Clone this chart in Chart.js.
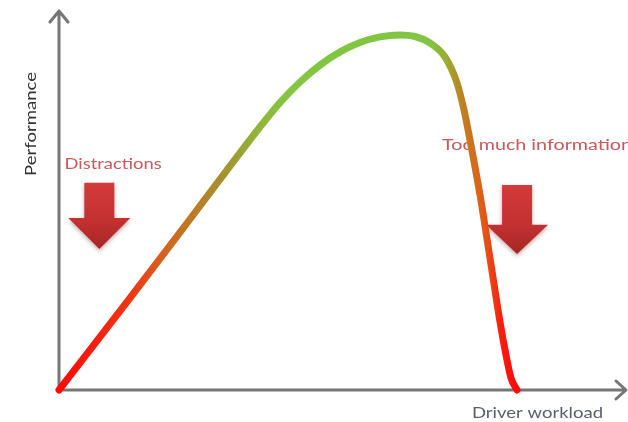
<!DOCTYPE html>
<html>
<head>
<meta charset="utf-8">
<script src="https://cdn.jsdelivr.net/npm/chart.js@4"></script>
<style>
  html, body { margin: 0; padding: 0; background: #ffffff; }
  #wrap { width: 628px; height: 422px; }
</style>
</head>
<body>
<div id="wrap"><canvas id="chart" width="628" height="422"></canvas></div>
<script>
// Inverted-U: performance as a function of driver workload (0–100 on both axes)
const workload    = [0, 12.68, 24.29, 35.89, 39.46, 43.04, 46.61, 50.18, 53.75, 57.32, 60.89, 63.57, 66.25, 68.93, 71.07, 72.32, 73.39, 75.18, 76.96, 78.75, 79.82, 80.71, 81.79];
const performance = [0, 24.34, 46.96, 69.58, 76.03, 81.48, 85.95, 89.44, 91.93, 93.41, 93.92, 93.52, 91.80, 88.10, 81.22, 74.07, 66.14, 51.59, 34.92, 17.99, 9.26, 3.17, 0];

// Axis titles and the two callouts
const xTitle = 'Driver workload';
const yTitle = 'Performance';
const calloutLabels = ['Distractions', 'Too much information'];

// Callout placement in data units: label anchor, arrow centre, arrow top, arrow tip
const calloutSpots = [
  { labelX: 1.0,  labelY: 59.8, arrowX: 7.2,  arrowTop: 54.8, headTop: 45.5, tip: 37.3 },
  { labelX: 68.4, labelY: 64.8, arrowX: 81.8, arrowTop: 54.2, headTop: 43.7, tip: 36.0 }
];
const calloutWidths = [97, 190];

// Colour ramp along the workload axis: red at the ends, green over the crest
const rampAt     = [0, 12.5, 18.4, 29.8, 35.7, 41.6, 66.0, 69.1, 70.9, 72.3, 75.0, 76.8, 79.1, 81.8];
const rampColors = ['#ff0a0a', '#f03414', '#d4621e', '#a4942e', '#90b63a', '#82c642', '#80c644', '#9aae30', '#b09028', '#c07e20', '#dc6418', '#ea4816', '#fa1c0e', '#ff0808'];

function curveGradient(chart) {
  const area = chart.chartArea;
  if (!area) return '#ff0000';
  const xs = chart.scales.x;
  const x0 = xs.getPixelForValue(0), x1 = xs.getPixelForValue(100);
  const g = chart.ctx.createLinearGradient(x0, 0, x1, 0);
  rampAt.forEach((v, i) => g.addColorStop(v / 100, rampColors[i]));
  return g;
}

function fitText(ctx, text, x, y, width, size, color, weight) {
  ctx.save();
  ctx.font = (weight || '400') + ' ' + size + 'px Lato, "Open Sans", sans-serif';
  const w = ctx.measureText(text).width;
  ctx.translate(x, y);
  ctx.scale(width / w, 1);
  ctx.fillStyle = color;
  ctx.textBaseline = 'middle';
  ctx.textAlign = 'left';
  ctx.fillText(text, 0, 0);
  ctx.restore();
}

function downArrow(ctx, cx, top, headTop, tip) {
  const shaft = 15, head = 31;
  ctx.save();
  ctx.shadowColor = 'rgba(80,0,0,0.35)';
  ctx.shadowBlur = 4;
  ctx.shadowOffsetY = 2;
  const g = ctx.createLinearGradient(0, top, 0, tip);
  g.addColorStop(0, '#d43a3a');
  g.addColorStop(0.6, '#c23030');
  g.addColorStop(1, '#a52626');
  ctx.fillStyle = g;
  ctx.beginPath();
  ctx.moveTo(cx - shaft, top);
  ctx.lineTo(cx + shaft, top);
  ctx.lineTo(cx + shaft, headTop);
  ctx.lineTo(cx + head, headTop);
  ctx.lineTo(cx, tip);
  ctx.lineTo(cx - head, headTop);
  ctx.lineTo(cx - shaft, headTop);
  ctx.closePath();
  ctx.fill();
  ctx.restore();
}

const decorations = {
  id: 'decorations',
  beforeDatasetsDraw(chart) {
    const ctx = chart.ctx;
    const xs = chart.scales.x, ys = chart.scales.y;
    const ox = xs.getPixelForValue(0), oy = ys.getPixelForValue(0);
    const W = chart.width;

    // axes with open arrowheads
    ctx.save();
    ctx.strokeStyle = '#767676';
    ctx.lineWidth = 3;
    ctx.lineCap = 'round';
    ctx.lineJoin = 'round';
    ctx.beginPath();
    ctx.moveTo(ox, oy + 1);
    ctx.lineTo(ox, 11);
    ctx.moveTo(ox - 9, 22);
    ctx.lineTo(ox, 11);
    ctx.lineTo(ox + 9, 22);
    ctx.moveTo(ox - 1, oy);
    ctx.lineTo(W - 2, oy);
    ctx.moveTo(W - 12, oy - 9);
    ctx.lineTo(W - 2, oy);
    ctx.lineTo(W - 12, oy + 9);
    ctx.stroke();
    ctx.restore();

    // axis titles
    ctx.save();
    ctx.translate(31, 124);
    ctx.rotate(-Math.PI / 2);
    fitText(ctx, yTitle, -52, 0, 104, 15, '#333333', '400');
    ctx.restore();
    fitText(ctx, xTitle, 472, 413, 131, 15, '#5a5e68', '400');

    // callouts: label + down arrow
    calloutSpots.forEach((s, i) => {
      fitText(ctx, calloutLabels[i], xs.getPixelForValue(s.labelX), ys.getPixelForValue(s.labelY),
              calloutWidths[i], 15, '#c9585a', '400');
      downArrow(ctx, xs.getPixelForValue(s.arrowX), ys.getPixelForValue(s.arrowTop),
                ys.getPixelForValue(s.headTop), ys.getPixelForValue(s.tip));
    });
  }
};

new Chart(document.getElementById('chart'), {
  type: 'line',
  data: {
    datasets: [{
      data: workload.map((w, i) => ({ x: w, y: performance[i] })),
      borderColor: ctx => curveGradient(ctx.chart),
      borderWidth: 7,
      borderCapStyle: 'round',
      borderJoinStyle: 'round',
      cubicInterpolationMode: 'monotone',
      pointRadius: 0,
      fill: false,
      clip: false
    }]
  },
  options: {
    responsive: false,
    animation: false,
    layout: { padding: { left: 59, right: 9, top: 12, bottom: 32 } },
    plugins: { legend: { display: false }, tooltip: { enabled: false } },
    scales: {
      x: { type: 'linear', min: 0, max: 100, display: false },
      y: { type: 'linear', min: 0, max: 100, display: false }
    }
  },
  plugins: [decorations]
});
</script>
</body>
</html>
